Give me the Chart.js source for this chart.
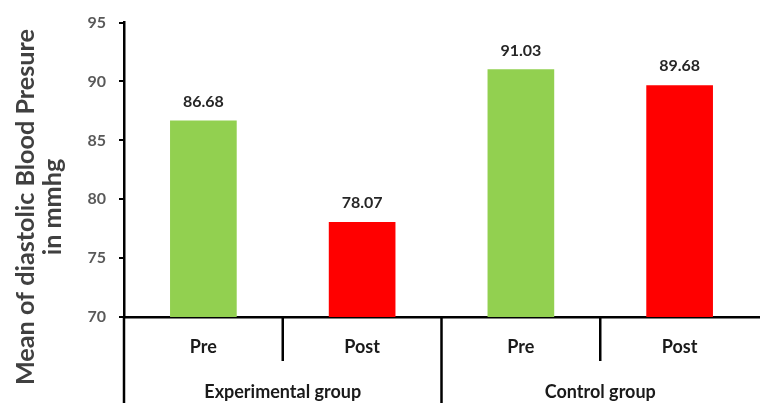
<!DOCTYPE html>
<html><head><meta charset="utf-8">
<script src="https://cdn.jsdelivr.net/npm/chart.js@4"></script>
<style>html,body{margin:0;padding:0;background:#fff}</style>
</head><body>
<canvas id="c" width="762" height="407"></canvas>
<script>
// Mean diastolic blood pressure, pre/post, by study group
const conditions = ['Pre', 'Post', 'Pre', 'Post'];
const groups = ['Experimental group', 'Control group'];
const meanDiastolic = [86.68, 78.07, 91.03, 89.68];
const barColors = ['#92D050', '#FF0000', '#92D050', '#FF0000'];
const yTitle = ['Mean of diastolic Blood Presure', 'in mmhg'];

const FONT = 'Lato, "Open Sans", sans-serif';

// Axis extensions, group separators, value labels and the rotated y title
const decorations = {
  id: 'decorations',
  afterDraw(chart) {
    const ctx = chart.ctx;
    const area = chart.chartArea;
    const x = chart.scales.x;
    ctx.save();
    ctx.strokeStyle = '#000';
    ctx.lineWidth = 2.5;
    // y axis continues down past the category rows
    ctx.beginPath();
    ctx.moveTo(area.left, area.bottom);
    ctx.lineTo(area.left, 403);
    ctx.stroke();
    // separators between categories; the middle one splits the groups
    for (let i = 1; i < conditions.length; i++) {
      const sx = (x.getPixelForTick(i - 1) + x.getPixelForTick(i)) / 2;
      ctx.beginPath();
      ctx.moveTo(sx, area.bottom);
      ctx.lineTo(sx, i === 2 ? 403 : 361);
      ctx.stroke();
    }
    // value labels above bars
    const meta = chart.getDatasetMeta(0);
    ctx.fillStyle = '#262626';
    ctx.font = 'bold 16px ' + FONT;
    ctx.textAlign = 'center';
    ctx.textBaseline = 'bottom';
    meta.data.forEach((bar, i) => {
      ctx.fillText(meanDiastolic[i].toFixed(2), bar.x, bar.y - 11);
    });
    // y axis title (two lines, rotated), sized so the first line runs ~356px
    ctx.fillStyle = '#404040';
    ctx.font = 'bold 20px ' + FONT;
    const w20 = ctx.measureText(yTitle[0]).width;
    const size = Math.min(26, 20 * 356 / w20);
    ctx.font = 'bold ' + size.toFixed(1) + 'px ' + FONT;
    ctx.textBaseline = 'alphabetic';
    const baseX = [34, 61];
    yTitle.forEach((t, i) => {
      ctx.save();
      ctx.translate(baseX[i], 207);
      ctx.rotate(-Math.PI / 2);
      ctx.fillText(t, 0, 0);
      ctx.restore();
    });
    ctx.restore();
  }
};

new Chart(document.getElementById('c'), {
  type: 'bar',
  data: {
    labels: conditions,
    datasets: [{
      data: meanDiastolic,
      backgroundColor: barColors,
      borderWidth: 0,
      categoryPercentage: 1,
      barPercentage: 0.42
    }]
  },
  options: {
    responsive: false,
    animation: false,
    devicePixelRatio: 1,
    layout: { padding: { top: 20, right: 3, bottom: 0, left: 0 } },
    plugins: { legend: { display: false }, tooltip: { enabled: false } },
    scales: {
      y: {
        min: 70, max: 95,
        ticks: { stepSize: 5, color: '#595959', font: { family: FONT, size: 16, weight: 'bold' }, padding: 13 },
        grid: { drawOnChartArea: false, tickLength: 5, color: '#000', lineWidth: 2 },
        border: { color: '#000', width: 2.5 },
        afterFit(s) { s.width = 124; }
      },
      x: {
        ticks: { color: '#1a1a1a', font: { family: FONT, size: 18, weight: 'bold' }, padding: 11 },
        grid: { display: false },
        border: { color: '#000', width: 2.5 },
        afterFit(s) { s.height = 45; }
      },
      x2: {
        type: 'category',
        position: 'bottom',
        weight: 1,
        labels: groups,
        offset: true,
        ticks: { color: '#1a1a1a', font: { family: FONT, size: 18, weight: 'bold' }, padding: 11 },
        grid: { display: false },
        border: { display: false },
        afterFit(s) { s.height = 45; }
      }
    }
  },
  plugins: [decorations]
});
</script>
</body></html>
